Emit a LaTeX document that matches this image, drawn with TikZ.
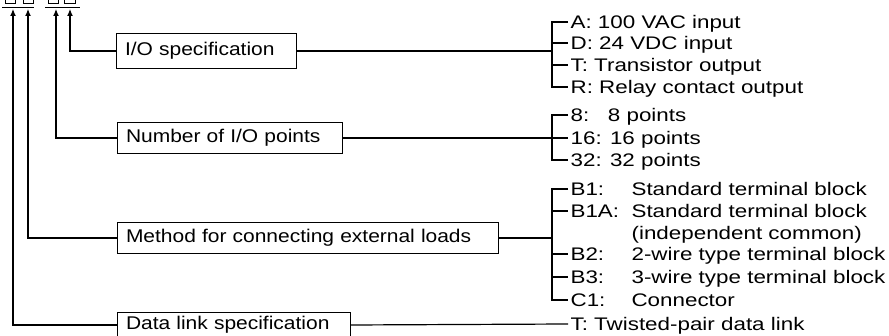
\documentclass[tikz,border=0pt]{standalone}
\usepackage{fontspec}
\setmainfont{Liberation Sans}
\newfontfamily\itemfam[FakeStretch=1.23]{Liberation Sans}
\newfontfamily\boxfam[FakeStretch=1.14]{Liberation Sans}
\usetikzlibrary{arrows.meta}
\newlength\labw
\setlength\labw{61pt}
\begin{document}
\begin{tikzpicture}[x=1pt,y=-1pt,line width=1.2pt,
  box/.style={font=\boxfam\fontsize{18.4}{21.5}\selectfont,draw,line width=1pt,anchor=west,align=left,inner xsep=8.5pt,inner ysep=0pt},
  item/.style={font=\itemfam\fontsize{18.2}{21.5}\selectfont,anchor=west,inner xsep=2pt,inner ysep=0pt,text height=13pt,text depth=0pt},
  up/.style={-{Latex[length=7pt,width=6pt]}},
  frag/.style={line width=1pt}]
\useasboundingbox (0,0) rectangle (889,336);
\clip (0,0) rectangle (889,336);

% cut-off model code at top
\draw[frag] (5,-4) rectangle (15,4);
\draw[frag] (23,-4) rectangle (33,4);
\draw[frag] (48,-4) rectangle (58,4);
\draw[frag] (64,-4) rectangle (75,4);
\draw (2,7.5) -- (34,7.5);
\draw (45,7.5) -- (80,7.5);
\coordinate (t1) at (13,9);
\coordinate (t2) at (28,9);
\coordinate (t3) at (56,9);
\coordinate (t4) at (70,9);

% boxes
\node[box,text width=163pt,minimum height=35pt] (io) at (116,51) {I/O specification};
\node[box,text width=208pt,minimum height=31pt] (num) at (117,138) {Number of I/O points};
\node[box,text width=364pt,minimum height=31pt] (meth) at (117,238) {Method for connecting external loads};
\node[box,text width=216pt,minimum height=24pt] (data) at (117,325) {Data link specification};

% arrows to the code
\draw[up] (io.west) -| (t4);
\draw[up] (num.west) -| (t3);
\draw[up] (meth.west) -| (t2);
\draw[up] (data.west) -| (t1);

% I/O specification items
\node[item] (iA) at (568,22) {A: 100 VAC input};
\node[item] (iD) at (568,43) {D: 24 VDC input};
\node[item] (iT) at (568,65) {T: Transistor output};
\node[item] (iR) at (568,87) {R: Relay contact output};
\coordinate (bio) at (552,51);
\draw (io.east) -- (bio);
\draw (iA.west) -- (iA.west -| bio) -- (iR.west -| bio) -- (iR.west);
\draw (iD.west -| bio) -- (iD.west);
\draw (iT.west -| bio) -- (iT.west);

% number of points items
\node[item] (i8) at (568,115) {8:\hphantom{6}\ 8 points};
\node[item] (i16) at (568,138) {16: 16 points};
\node[item] (i32) at (568,160) {32: 32 points};
\coordinate (bnum) at (552,138);
\draw (num.east) -- (bnum);
\draw (i8.west) -- (i8.west -| bnum) -- (i32.west -| bnum) -- (i32.west);
\draw (bnum) -- (i16.west);

% method items
\node[item] (iB1) at (568,189) {\makebox[\labw][l]{B1:}Standard terminal block};
\node[item] (iB1A) at (568,211) {\makebox[\labw][l]{B1A:}Standard terminal block};
\node[item] (iind) at (568,233) {\hspace*{\labw}(independent common)};
\node[item] (iB2) at (568,254) {\makebox[\labw][l]{B2:}2-wire type terminal block};
\node[item] (iB3) at (568,277) {\makebox[\labw][l]{B3:}3-wire type terminal block};
\node[item] (iC1) at (568,300) {\makebox[\labw][l]{C1:}Connector};
\coordinate (bmeth) at (552,238);
\draw (meth.east) -- (bmeth);
\draw (iB1.west) -- (iB1.west -| bmeth) -- (iC1.west -| bmeth) -- (iC1.west);
\draw (iB1A.west -| bmeth) -- (iB1A.west);
\draw (iB2.west -| bmeth) -- (iB2.west);
\draw (iB3.west -| bmeth) -- (iB3.west);

% data link item
\node[item] (iTw) at (568,324) {T: Twisted-pair data link};
\draw (data.east) -- (iTw.west);
\end{tikzpicture}
\end{document}
